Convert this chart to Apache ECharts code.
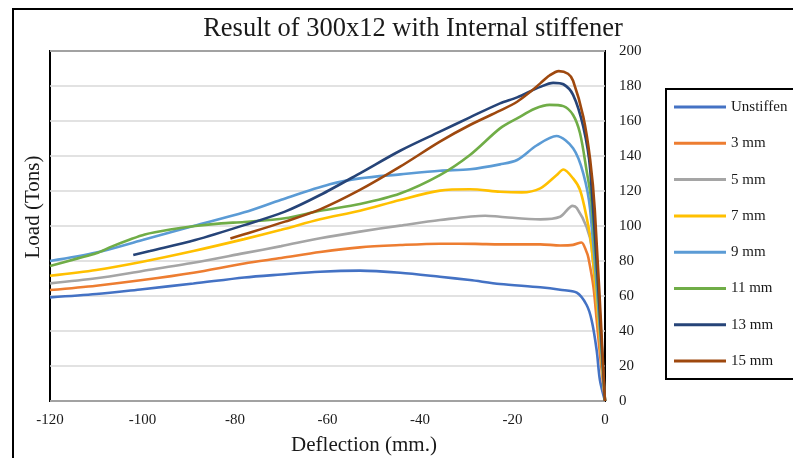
<!DOCTYPE html>
<html>
<head>
<meta charset="utf-8">
<script src="https://cdn.jsdelivr.net/npm/echarts@6/dist/echarts.min.js"></script>
<style>
  html, body { margin: 0; padding: 0; background: #fff; }
  #chart { width: 793px; height: 458px; }
</style>
</head>
<body>
<div id="chart"></div>
<script>
// Load–deflection curves, [deflection (mm), load (tons)]
const unstiffen = [[-120,59.2],[-110,61.1],[-100,63.9],[-89,67.1],[-78,70.6],[-70,72.3],[-61.6,73.9],[-53,74.5],[-44.3,73.3],[-35.7,71],[-29.2,69.1],[-22.7,66.9],[-14,65],[-9.7,63.6],[-6.1,61.9],[-4,55],[-2.9,46.3],[-1.8,29],[-1.1,12],[0,0]];
const mm3 = [[-120,63.4],[-110,65.9],[-100,69.1],[-89,73.3],[-78,78.6],[-70,81.7],[-61.6,85.1],[-53,87.8],[-44.3,89.1],[-35.7,89.9],[-28,89.8],[-22.7,89.5],[-14,89.5],[-9.7,88.9],[-6.9,89.2],[-5.1,90.6],[-4,85.3],[-3.6,82],[-2.5,65.3],[-1.8,46.3],[-1.1,27],[0,0]];
const mm5 = [[-120,67.2],[-110,70.1],[-100,74.3],[-89,79],[-78,84.5],[-70,88.5],[-61.6,93],[-53,96.8],[-44.3,100.2],[-35.7,103.4],[-25.9,105.9],[-22.7,105.3],[-14,103.8],[-9.7,105.3],[-7,111.5],[-6.1,110.3],[-4,99.6],[-2.9,88],[0,0]];
const mm7 = [[-120,71.6],[-110,74.9],[-100,79.6],[-89,85.7],[-78,92.5],[-70,97.8],[-61.6,103.8],[-53,108.7],[-44.3,114.9],[-35.7,120.2],[-29.2,121],[-22.7,119.6],[-18,119.2],[-14,121.5],[-10.5,129],[-9,132.3],[-6.9,127.2],[-5.4,120.6],[-4,105.3],[-2.9,88.2],[0,0]];
const mm9 = [[-120,80],[-110,84.8],[-100,92],[-89,100],[-78,107.8],[-70,115],[-59.5,123.8],[-53,127.2],[-44.3,129.5],[-35.7,131.6],[-29.2,132.4],[-22.7,135.2],[-19,137.7],[-14.8,146],[-10.5,151.4],[-6.9,144.4],[-4.7,130.1],[-3.2,109],[0,0]];
const mm11 = [[-120,77.1],[-114,81.5],[-110,84.4],[-106.7,88.2],[-103,92],[-99.5,95.2],[-94,98],[-88.6,100],[-83,101.5],[-78,102.3],[-69.2,104.4],[-61.6,108.7],[-53,112.6],[-44.3,118.6],[-35.7,129.1],[-29.2,140.6],[-22.7,155.8],[-19,161.5],[-15.2,167],[-12,169.2],[-9,168.5],[-6.9,163.4],[-5.4,153],[-4,132],[-2.9,113],[0,0]];
const mm13 = [[-102,83.4],[-98.4,85.7],[-88.6,92],[-78,100.5],[-69.2,108.2],[-61.6,117.7],[-53,130.1],[-44.3,143],[-35.7,153.9],[-29.2,162.1],[-22.7,170.1],[-19,173.5],[-14,179.5],[-11.2,181.8],[-9,181],[-6.9,174.9],[-4.7,156.7],[-3.2,132],[0,0]];
const mm15 = [[-81,92.9],[-77.8,95.4],[-69.2,102.5],[-61.6,109.5],[-53,120.6],[-44.3,133.9],[-35.7,148.2],[-29.2,157.7],[-22.7,165.9],[-19,171],[-16,177],[-14,181.5],[-12,186],[-10,188.5],[-8,187],[-6.9,183],[-4.7,162.5],[-3.2,137.7],[-2.2,109],[0,0]];

const seriesNames = ['Unstiffen', '3 mm', '5 mm', '7 mm', '9 mm', '11 mm', '13 mm', '15 mm'];
const seriesData = [unstiffen, mm3, mm5, mm7, mm9, mm11, mm13, mm15];
const colors = ['#4472C4', '#ED7D31', '#A5A5A5', '#FFC000', '#5B9BD5', '#70AD47', '#264478', '#9E480E'];

// Axis ticks
const xTicks = [-120, -100, -80, -60, -40, -20, 0];
const yTicks = [0, 20, 40, 60, 80, 100, 120, 140, 160, 180, 200];

const FONT = '"Liberation Serif", "Times New Roman", serif';
const TEXT = '#1a1a1a';

const chart = echarts.init(document.getElementById('chart'), null, { renderer: 'canvas' });

chart.setOption({
  animation: false,
  backgroundColor: '#fff',
  color: colors,
  title: {
    text: 'Result of 300x12 with Internal stiffener',
    left: 408, top: 11, textAlign: 'center',
    textStyle: { fontFamily: FONT, fontSize: 26.5, fontWeight: 'normal', color: TEXT }
  },
  grid: {
    left: 50, right: 188, top: 51, bottom: 57,
    show: true, borderColor: '#000', borderWidth: 2, backgroundColor: 'transparent'
  },
  xAxis: {
    type: 'value',
    min: xTicks[0], max: xTicks[xTicks.length - 1], interval: xTicks[1] - xTicks[0],
    axisLine: { show: false },
    axisTick: { show: false },
    splitLine: { show: false },
    axisLabel: { margin: 12, fontFamily: FONT, fontSize: 15, color: TEXT }
  },
  yAxis: {
    type: 'value', position: 'right',
    min: yTicks[0], max: yTicks[yTicks.length - 1], interval: yTicks[1] - yTicks[0],
    axisLine: { show: false },
    axisTick: { show: false },
    splitLine: { show: true, lineStyle: { color: '#D9D9D9', width: 1.5 } },
    axisLabel: { margin: 14, fontFamily: FONT, fontSize: 15, color: TEXT }
  },
  legend: {
    orient: 'vertical',
    left: 666, top: 89,
    padding: [9, 60, 9, 8],
    itemGap: 18.3,
    itemWidth: 52, itemHeight: 3,
    icon: 'rect',
    borderColor: '#000', borderWidth: 2,
    textStyle: { fontFamily: FONT, fontSize: 15, color: TEXT, lineHeight: 18 },
    data: seriesNames
  },
  graphic: [
    {
      type: 'rect', silent: true, z: -1,
      shape: { x: 13, y: 9, width: 900, height: 600 },
      style: { fill: 'none', stroke: '#000', lineWidth: 2 }
    },
    {
      type: 'text', silent: true,
      x: 364, y: 445,
      style: { text: 'Deflection (mm.)', font: '21px ' + FONT, fill: TEXT, textAlign: 'center', textVerticalAlign: 'middle' }
    },
    {
      type: 'text', silent: true,
      x: 33, y: 207, rotation: Math.PI / 2,
      style: { text: 'Load (Tons)', font: '21px ' + FONT, fill: TEXT, textAlign: 'center', textVerticalAlign: 'middle' }
    }
  ],
  series: seriesNames.map((name, i) => ({
    name,
    type: 'line',
    data: seriesData[i],
    symbol: 'none',
    smooth: 0.3,
    lineStyle: { width: 2.6, color: colors[i] },
    itemStyle: { color: colors[i] },
    z: 2 + i
  }))
});
</script>
</body>
</html>
